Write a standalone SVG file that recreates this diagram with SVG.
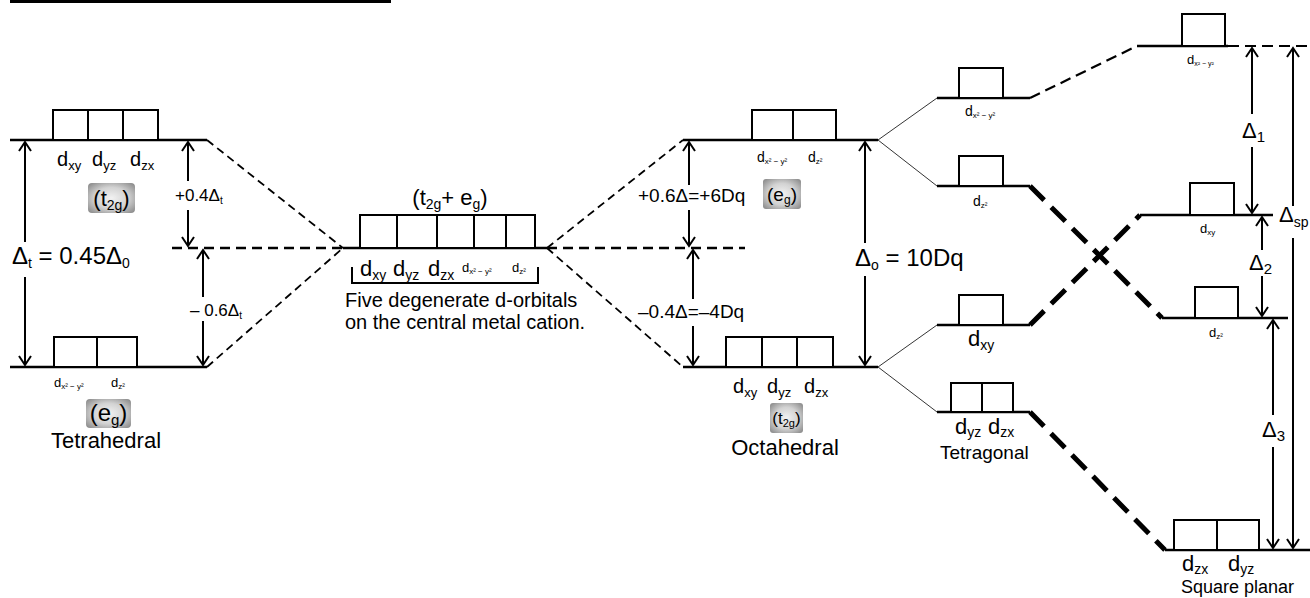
<svg xmlns="http://www.w3.org/2000/svg" width="1310" height="598" viewBox="0 0 1310 598">
<style>
.lvl{stroke:#000;stroke-width:2.5;fill:none}
.box{fill:#fff;stroke:#000;stroke-width:2}
.dash{stroke:#000;stroke-width:1.8;stroke-dasharray:8 5;fill:none}
.hdash{stroke:#000;stroke-width:2.5;stroke-dasharray:10 6;fill:none}
.mdash{stroke:#000;stroke-width:2.2;stroke-dasharray:11 6;fill:none}
.thick{stroke:#000;stroke-width:5;stroke-dasharray:20 10;fill:none}
.thin{stroke:#000;stroke-width:0.8;fill:none}
.arr{stroke:#000;stroke-width:2;fill:none;marker-end:url(#ah)}
.ln{stroke:#000;stroke-width:2;fill:none}
text{font-family:"Liberation Sans",Arial,sans-serif;fill:#000}
.badge{fill:url(#gb)}
</style>
<defs>
<marker id="ah" markerUnits="userSpaceOnUse" markerWidth="16" markerHeight="16" viewBox="-12 -8 14 16" refX="0" refY="0" orient="auto">
<path d="M-9,-6 L0,0 L-9,6" fill="none" stroke="#000" stroke-width="2"/>
</marker>
<radialGradient id="gb" cx="50%" cy="50%" r="65%">
<stop offset="0" stop-color="#f2f2f2"/>
<stop offset="0.55" stop-color="#d2d2d2"/>
<stop offset="1" stop-color="#8f8f8f"/>
</radialGradient>
</defs>

<rect x="10" y="0" width="381" height="3" fill="#000"/>

<g id="connectors">
<line class="dash" x1="207" y1="140" x2="343" y2="248"/>
<line class="dash" x1="207" y1="367" x2="343" y2="248"/>
<line class="hdash" x1="172" y1="248" x2="343" y2="248"/>
<line class="dash" x1="547" y1="248" x2="683" y2="140"/>
<line class="dash" x1="547" y1="248" x2="683" y2="367"/>
<line class="hdash" x1="547" y1="248" x2="745" y2="248"/>
<line class="thin" x1="878" y1="140" x2="937" y2="98"/>
<line class="thin" x1="878" y1="140" x2="937" y2="186"/>
<line class="thin" x1="878" y1="367" x2="937" y2="325"/>
<line class="thin" x1="878" y1="367" x2="937" y2="412"/>
<line class="mdash" x1="1030" y1="98" x2="1137" y2="46"/>
<line class="thick" x1="1030" y1="186" x2="1162" y2="318"/>
<line class="thick" x1="1030" y1="325" x2="1140" y2="215"/>
<line class="thick" x1="1030" y1="412" x2="1165" y2="550"/>
<line class="mdash" x1="1228" y1="46" x2="1310" y2="46"/>
</g>

<g id="tetrahedral">
<line class="lvl" x1="10" y1="140" x2="207" y2="140"/>
<rect class="box" x="53" y="110" width="35" height="30"/>
<rect class="box" x="88" y="110" width="35" height="30"/>
<rect class="box" x="123" y="110" width="35" height="30"/>
<text x="57" y="166" font-size="20">d<tspan font-size="13" dy="4">xy</tspan></text>
<text x="92" y="166" font-size="20">d<tspan font-size="13" dy="4">yz</tspan></text>
<text x="130" y="166" font-size="20">d<tspan font-size="13" dy="4">zx</tspan></text>
<rect class="badge" x="88" y="183" width="47" height="30" rx="4"/>
<text x="111.5" y="206" font-size="22" text-anchor="middle">(t<tspan font-size="14" dy="4">2g</tspan><tspan dy="-4">)</tspan></text>
<line class="lvl" x1="10" y1="367" x2="207" y2="367"/>
<rect class="box" x="54" y="337" width="43" height="30"/>
<rect class="box" x="97" y="337" width="40" height="30"/>
<text x="54" y="387" font-size="13">d<tspan font-size="8" dy="2">x² − y²</tspan></text>
<text x="111" y="387" font-size="13">d<tspan font-size="8" dy="2">z²</tspan></text>
<rect class="badge" x="86" y="399" width="45" height="29" rx="4"/>
<text x="108.5" y="421" font-size="24" text-anchor="middle">(e<tspan font-size="15" dy="4">g</tspan><tspan dy="-4">)</tspan></text>
<text x="106" y="448" font-size="22" text-anchor="middle">Tetrahedral</text>
<line class="arr" x1="25" y1="242" x2="25" y2="142"/>
<line class="arr" x1="25" y1="277" x2="25" y2="365"/>
<text x="12" y="264" font-size="24">Δ<tspan font-size="14" dy="4">t</tspan><tspan dy="-4"> = 0.45Δ</tspan><tspan font-size="14" dy="4">0</tspan></text>
<line class="arr" x1="188" y1="181" x2="188" y2="142"/>
<line class="arr" x1="188" y1="210" x2="188" y2="246"/>
<text x="175" y="201" font-size="17">+0.4Δ<tspan font-size="10" dy="3">t</tspan></text>
<line class="arr" x1="203" y1="297" x2="203" y2="250"/>
<line class="arr" x1="203" y1="321" x2="203" y2="365"/>
<text x="190" y="316" font-size="17">– 0.6Δ<tspan font-size="10" dy="3">t</tspan></text>
</g>

<g id="free-ion">
<line class="lvl" x1="343" y1="248" x2="547" y2="248"/>
<rect class="box" x="360" y="215" width="37" height="33"/>
<rect class="box" x="397" y="215" width="40" height="33"/>
<rect class="box" x="437" y="215" width="37" height="33"/>
<rect class="box" x="474" y="215" width="32" height="33"/>
<rect class="box" x="506" y="215" width="29" height="33"/>
<text x="450" y="205" font-size="22" text-anchor="middle">(t<tspan font-size="14" dy="4">2g</tspan><tspan dy="-4">+ e</tspan><tspan font-size="14" dy="4">g</tspan><tspan dy="-4">)</tspan></text>
<text x="360" y="276" font-size="22">d<tspan font-size="14" dy="4">xy</tspan></text>
<text x="393" y="276" font-size="22">d<tspan font-size="14" dy="4">yz</tspan></text>
<text x="428" y="276" font-size="22">d<tspan font-size="14" dy="4">zx</tspan></text>
<text x="462" y="272" font-size="13">d<tspan font-size="8" dy="2">x² − y²</tspan></text>
<text x="512" y="272" font-size="13">d<tspan font-size="8" dy="2">z²</tspan></text>
<polyline class="ln" points="352,267 352,283 538,283 538,267"/>
<text x="345" y="307" font-size="20">Five degenerate d-orbitals</text>
<text x="345" y="329" font-size="20">on the central metal cation.</text>
</g>

<g id="octahedral">
<line class="lvl" x1="683" y1="140" x2="878" y2="140"/>
<rect class="box" x="752" y="110" width="41" height="30"/>
<rect class="box" x="793" y="110" width="43" height="30"/>
<text x="757" y="162" font-size="14">d<tspan font-size="8" dy="2">x² − y²</tspan></text>
<text x="808" y="162" font-size="14">d<tspan font-size="8" dy="2">z²</tspan></text>
<rect class="badge" x="763" y="179" width="38" height="30" rx="3"/>
<text x="782" y="201" font-size="19" text-anchor="middle">(e<tspan font-size="12" dy="3">g</tspan><tspan dy="-3">)</tspan></text>
<line class="lvl" x1="683" y1="367" x2="878" y2="367"/>
<rect class="box" x="726" y="337" width="36" height="30"/>
<rect class="box" x="762" y="337" width="35" height="30"/>
<rect class="box" x="797" y="337" width="36" height="30"/>
<text x="733" y="393" font-size="20">d<tspan font-size="13" dy="4">xy</tspan></text>
<text x="767" y="393" font-size="20">d<tspan font-size="13" dy="4">yz</tspan></text>
<text x="804" y="393" font-size="20">d<tspan font-size="13" dy="4">zx</tspan></text>
<rect class="badge" x="770" y="403" width="33" height="30" rx="3"/>
<text x="786.5" y="424" font-size="17" text-anchor="middle">(t<tspan font-size="11" dy="3">2g</tspan><tspan dy="-3">)</tspan></text>
<text x="785" y="455" font-size="22" text-anchor="middle">Octahedral</text>
<line class="arr" x1="689" y1="185" x2="689" y2="142"/>
<line class="arr" x1="689" y1="210" x2="689" y2="246"/>
<text x="638" y="202" font-size="19">+0.6Δ=+6Dq</text>
<line class="arr" x1="693" y1="299" x2="693" y2="250"/>
<line class="arr" x1="693" y1="326" x2="693" y2="365"/>
<text x="638" y="318" font-size="19">–0.4Δ=–4Dq</text>
<line class="arr" x1="865" y1="243" x2="865" y2="142"/>
<line class="arr" x1="865" y1="276" x2="865" y2="365"/>
<text x="855" y="266" font-size="24">Δ<tspan font-size="14" dy="4">o</tspan><tspan dy="-4"> = 10Dq</tspan></text>
</g>

<g id="tetragonal">
<line class="lvl" x1="937" y1="98" x2="1030" y2="98"/>
<rect class="box" x="959" y="68" width="44" height="30"/>
<text x="965" y="116" font-size="14">d<tspan font-size="8" dy="2">x² − y²</tspan></text>
<line class="lvl" x1="937" y1="186" x2="1030" y2="186"/>
<rect class="box" x="959" y="156" width="44" height="30"/>
<text x="973" y="206" font-size="14">d<tspan font-size="8" dy="2">z²</tspan></text>
<line class="lvl" x1="937" y1="325" x2="1030" y2="325"/>
<rect class="box" x="959" y="295" width="44" height="30"/>
<text x="968" y="346" font-size="22">d<tspan font-size="14" dy="4">xy</tspan></text>
<line class="lvl" x1="937" y1="412" x2="1030" y2="412"/>
<rect class="box" x="951" y="383" width="31" height="29"/>
<rect class="box" x="982" y="383" width="31" height="29"/>
<text x="955" y="434" font-size="22">d<tspan font-size="14" dy="3">yz</tspan></text>
<text x="988" y="434" font-size="22">d<tspan font-size="14" dy="3">zx</tspan></text>
<text x="940" y="459" font-size="19">Tetragonal</text>
</g>

<g id="square-planar">
<line class="lvl" x1="1137" y1="46" x2="1228" y2="46"/>
<rect class="box" x="1182" y="14" width="43" height="32"/>
<text x="1187" y="64" font-size="13">d<tspan font-size="7" dy="2">x² − y²</tspan></text>
<line class="lvl" x1="1140" y1="215" x2="1273" y2="215"/>
<rect class="box" x="1190" y="183" width="44" height="32"/>
<text x="1200" y="233" font-size="13">d<tspan font-size="8" dy="2">xy</tspan></text>
<line class="lvl" x1="1162" y1="318" x2="1288" y2="318"/>
<rect class="box" x="1195" y="287" width="43" height="31"/>
<text x="1209" y="337" font-size="13">d<tspan font-size="8" dy="2">z²</tspan></text>
<line class="lvl" x1="1165" y1="550" x2="1310" y2="550"/>
<rect class="box" x="1174" y="520" width="43" height="30"/>
<rect class="box" x="1217" y="520" width="42" height="30"/>
<text x="1182" y="571" font-size="22">d<tspan font-size="14" dy="3">zx</tspan></text>
<text x="1228" y="571" font-size="22">d<tspan font-size="14" dy="3">yz</tspan></text>
<text x="1181" y="593" font-size="18">Square planar</text>
<line class="arr" x1="1252" y1="114" x2="1252" y2="48"/>
<line class="arr" x1="1252" y1="147" x2="1252" y2="213"/>
<text x="1242" y="138" font-size="22">Δ<tspan font-size="15" dy="4">1</tspan></text>
<line class="arr" x1="1293" y1="206" x2="1293" y2="48"/>
<line class="arr" x1="1293" y1="238" x2="1293" y2="548"/>
<text x="1279" y="222" font-size="22">Δ<tspan font-size="14" dy="5">sp</tspan></text>
<line class="arr" x1="1262" y1="250" x2="1262" y2="217"/>
<line class="arr" x1="1262" y1="276" x2="1262" y2="316"/>
<text x="1249" y="270" font-size="22">Δ<tspan font-size="15" dy="4">2</tspan></text>
<line class="arr" x1="1273" y1="415" x2="1273" y2="320"/>
<line class="arr" x1="1273" y1="447" x2="1273" y2="548"/>
<text x="1262" y="437" font-size="22">Δ<tspan font-size="15" dy="4">3</tspan></text>
</g>
</svg>
